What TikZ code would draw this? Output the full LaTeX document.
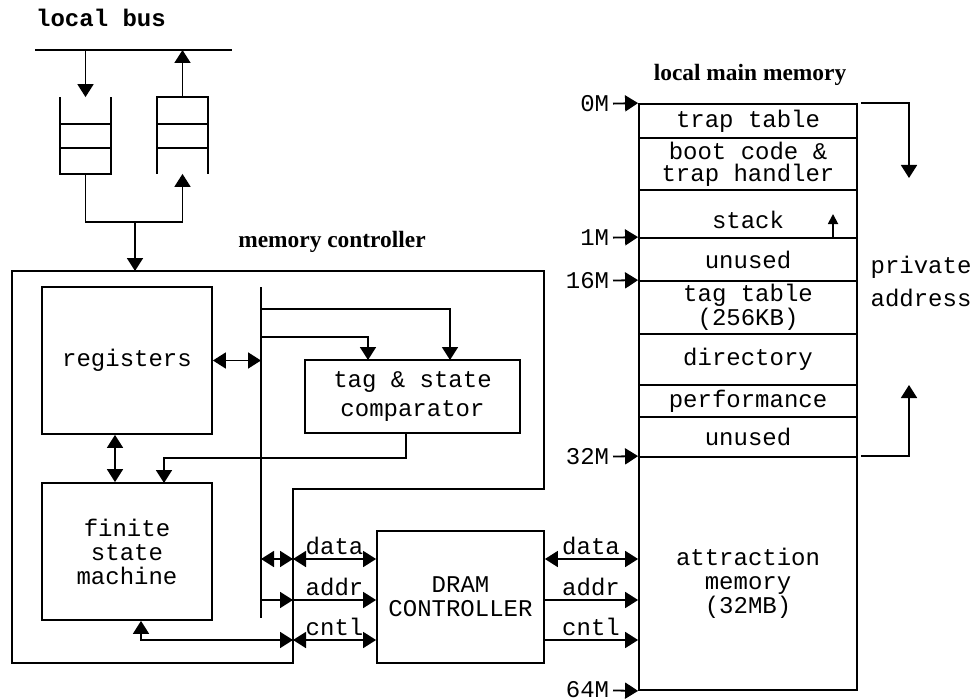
\documentclass[tikz,border=0pt]{standalone}
\usepackage{fontspec}
\setmainfont{Liberation Serif}
\setmonofont{Liberation Mono}
\usetikzlibrary{arrows.meta}

\begin{document}
\begin{tikzpicture}[x=0.5pt,y=-0.5pt,line width=0.9pt,
    >={Triangle[length=6.5pt,width=8pt]},
    box/.style={draw,inner sep=0pt,align=center,font=\ttfamily\fontsize{12}{12}\selectfont},
    seg/.style={box,minimum width=109pt},
    lbl/.style={inner sep=1.5pt,align=center,font=\ttfamily\fontsize{12}{12}\selectfont},
    title/.style={inner sep=0pt,font=\bfseries\fontsize{11.7}{12}\selectfont},
    fifo/.style={inner sep=0pt,minimum width=24.5pt,minimum height=37.5pt}]
    \useasboundingbox (0,0) rectangle (973,700);
    % local bus
    \node[lbl,font=\ttfamily\bfseries\fontsize{12}{12}\selectfont] (lbus) at (101,18) {local bus};
    \coordinate (busl) at (35,50);
    \coordinate (busr) at (232,50);
    \draw (busl) -- (busr); %バス
    \node[fifo] (fin) at (85.5,135.5) {};
    \node[fifo] (fout) at (182.5,135.5) {};
    \draw (fin.north west) -- (fin.south west) -- (fin.south east) -- (fin.north east); %入力FIFO
    \draw (fout.south west) -- (fout.north west) -- (fout.north east) -- (fout.south east); %出力FIFO
    \foreach \y in {124,148} {
        \draw (fin.west |- 0,\y) -- (fin.east |- 0,\y);
        \draw (fout.west |- 0,\y) -- (fout.east |- 0,\y);
    }
    \draw[->] (busl -| fin) -- (fin.north);
    \draw[->] (fout.north) -- (busl -| fout);
    \coordinate (mg) at (135,222);
    \draw[->] (fin.south) |- (mg) -| (fout.south);

    % memory controller
    \node[title] (mctitle) at (332,242) {memory controller};
    \coordinate (mc) at (12,271);
    \draw (mc) -- (544,271) -- (544,489) -- (293,489) -- (293,663) -- (12,663) -- cycle; %外枠
    \draw[->] (mg) -- (mg |- mc);
    \node[box,minimum width=85pt,minimum height=73.5pt] (reg) at (127,360.5) {registers};
    \node[box,minimum width=85pt,minimum height=68.5pt] (fsm) at (127,551.5) {finite\\state\\machine};
    \node[box,minimum width=107.5pt,minimum height=36.5pt] (tag) at (412.5,396.5) {tag \& state\\[2.5pt]comparator};
    \node[box,minimum width=83.5pt,minimum height=66pt] (dram) at (460.5,597) {DRAM\\CONTROLLER};
    \coordinate (bustop) at (261,287);
    \coordinate (busbot) at (261,618);
    \draw (bustop) -- (busbot); %内部バス
    \draw[<->] (reg.east) -- (reg.east -| bustop);
    \coordinate (t1) at (450,360);
    \coordinate (t2) at (368,360);
    \draw[->] (bustop |- 0,309) -| (t1);
    \draw[->] (bustop |- 0,337) -| (t2);
    \draw[<->] (reg.south -| 115,0) -- (fsm.north -| 115,0);
    \coordinate (t3) at (406,433);
    \coordinate (f1) at (164,483);
    \draw[->] (t3) |- (0,458 -| f1) -- (f1);

    % DRAM controller rows
    \coordinate (ld) at (293,559);
    \coordinate (la) at (293,600);
    \coordinate (lc) at (293,640);
    \coordinate (fc) at (141,640);
    \draw[<->] (bustop |- ld) -- (ld);
    \draw[->] (bustop |- la) -- (la);
    \draw[<->] (fsm.south -| fc) -- (fc) -- (lc);
    \draw[<->] (ld) -- (dram.west |- ld) node[midway,above,lbl] {data};
    \draw[->] (la) -- (dram.west |- la) node[midway,above,lbl] {addr};
    \draw[<->] (lc) -- (dram.west |- lc) node[midway,above,lbl] {cntl};

    % local main memory
    \node[title] (lmtitle) at (750,75) {local main memory};
    \node[seg,minimum height=17pt] (trap) at (748,121) {trap table};
    \node[seg,minimum height=26pt] (boot) at (748,164) {boot code \&\\[-1pt]trap handler};
    \node[seg,minimum height=24pt,label={[lbl,yshift=-3pt]center:stack}] (stack) at (748,214) {};
    \node[seg,minimum height=21.5pt] (un1) at (748,259.5) {unused};
    \node[seg,minimum height=26.5pt] (tagt) at (748,307.5) {tag table\\(256KB)};
    \node[seg,minimum height=25.5pt] (dir) at (748,359.5) {directory};
    \node[seg,minimum height=16pt] (perf) at (748,401) {performance};
    \node[seg,minimum height=20pt] (un2) at (748,437) {unused};
    \node[seg,minimum height=116.5pt,label={[lbl,yshift=-5pt]center:attraction\\memory\\(32MB)}] (attr) at (748,573.5) {};
    \draw[->,>={Triangle[length=5pt,width=5pt]}] (stack.south -| 833,0) -- (stack.center -| 833,0); %スタック

    % address labels
    \node[lbl,anchor=east] (m0) at (613,104) {0M};
    \node[lbl,anchor=east] (m1) at (613,238) {1M};
    \node[lbl,anchor=east] (m16) at (613,281) {16M};
    \node[lbl,anchor=east] (m32) at (613,457) {32M};
    \node[lbl,anchor=east] (m64) at (613,690) {64M};
    \draw[->] (m0) -- (trap.north west);
    \draw[->] (m1) -- (un1.north west);
    \draw[->] (m16) -- (tagt.north west);
    \draw[->] (m32) -- (attr.north west);
    \draw[->] (m64) -- (attr.south west);

    \draw[<->] (dram.east |- ld) -- (attr.west |- ld);
    \draw[->] (dram.east |- la) -- (attr.west |- la);
    \draw[->] (dram.east |- lc) -- (attr.west |- lc);
    \node[lbl,anchor=south] at (591,559) {data};
    \node[lbl,anchor=south] at (591,600) {addr};
    \node[lbl,anchor=south] at (591,640) {cntl};

    % private address
    \node[lbl] (priv) at (921,281) {private\\[4.5pt]address};
    \coordinate (p1) at (909,178);
    \coordinate (p2) at (909,385);
    \draw[->] ([xshift=1.5pt]trap.north east) -| (p1);
    \draw[->] ([xshift=1.5pt]attr.north east) -| (p2);
\end{tikzpicture}
\end{document}
